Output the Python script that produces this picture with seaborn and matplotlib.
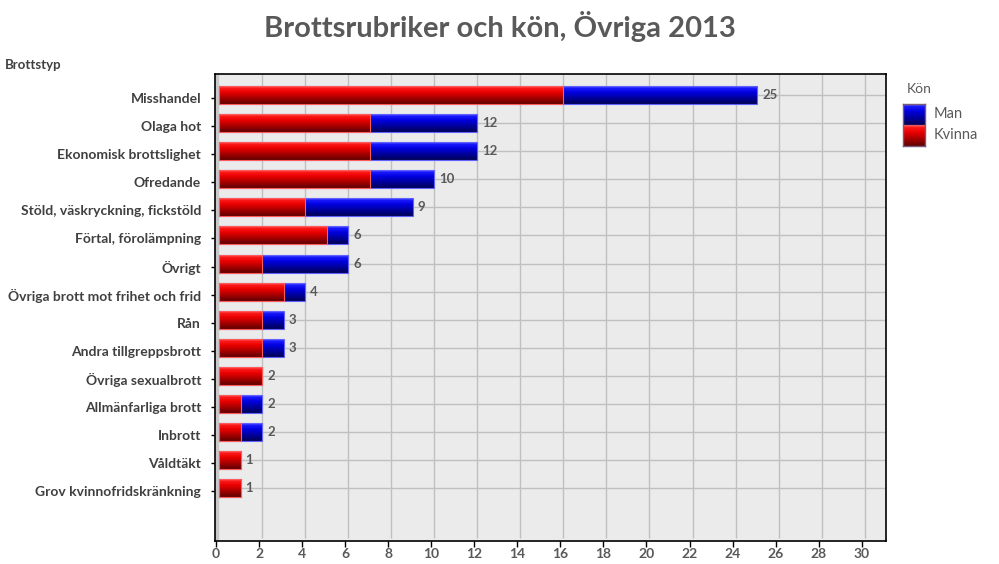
import numpy as np
import pandas as pd
import matplotlib
matplotlib.use("Agg")
import matplotlib.pyplot as plt
import matplotlib.transforms as mtransforms
import seaborn as sns

categories = ["Misshandel", "Olaga hot", "Ekonomisk brottslighet", "Ofredande",
              "Stöld, väskryckning, fickstöld", "Förtal, förolämpning", "Övrigt",
              "Övriga brott mot frihet och frid", "Rån", "Andra tillgreppsbrott",
              "Övriga sexualbrott", "Allmänfarliga brott", "Inbrott", "Våldtäkt",
              "Grov kvinnofridskränkning"]
kvinna = [16, 7, 7, 7, 4, 5, 2, 3, 2, 2, 2, 1, 1, 1, 1]
man = [9, 5, 5, 3, 5, 1, 4, 1, 1, 1, 0, 1, 1, 0, 0]
xticks = list(range(0, 31, 2))

title = "Brottsrubriker och kön, Övriga 2013"
ylabel_text = "Brottstyp"
legend_title = "Kön"

df = pd.DataFrame({"Brottstyp": categories, "Kvinna": kvinna, "Man": man})
df["Total"] = df["Kvinna"] + df["Man"]

sns.set_theme(style="white")
FONT = ["Lato", "DejaVu Sans"]
plt.rcParams["font.family"] = FONT
GRAY = "#595959"

fig = plt.figure(figsize=(9.99, 5.64), dpi=100)
ax = fig.add_axes([215 / 999, 1 - 541 / 564, (886 - 215) / 999, (541 - 74) / 564])
ax.set_facecolor("#ebebeb")

W = 0.64
sns.barplot(data=df, y="Brottstyp", x="Total", color="#0000dd", width=W, ax=ax,
            saturation=1, zorder=3, orient="h")
n_man = len(ax.patches)
sns.barplot(data=df, y="Brottstyp", x="Kvinna", color="#dd0000", width=W, ax=ax,
            saturation=1, zorder=4, orient="h")

xlim = (-0.05, 31.13)
ylim = (15.77, -0.854)

# 3D-like back wall offset
offset = mtransforms.Affine2D().translate(3, 3)
trans = ax.transData + offset


def grad(stops, n=64):
    pos = np.array([s[0] for s in stops])
    cols = np.array([s[1] for s in stops], dtype=float) / 255.0
    t = np.linspace(0, 1, n)
    arr = np.stack([np.interp(t, pos, cols[:, i]) for i in range(3)], axis=1)
    rgba = np.concatenate([arr, np.ones((n, 1))], axis=1)
    return rgba.reshape(n, 1, 4)


red_g = grad([(0, (255, 120, 120)), (0.1, (255, 25, 25)), (0.35, (232, 0, 0)),
              (1.0, (95, 0, 0))])
blue_g = grad([(0, (120, 120, 255)), (0.1, (25, 25, 255)), (0.35, (0, 0, 222)),
               (1.0, (0, 0, 85))])

for i, p in enumerate(ax.patches):
    is_man = i < n_man
    p.set_transform(trans)
    x0, y0 = p.get_x(), p.get_y()
    w, h = p.get_width(), p.get_height()
    if w <= 0:
        p.set_visible(False)
        continue
    p.set_facecolor("none")
    p.set_edgecolor("#6060ff" if is_man else "#ff5a5a")
    p.set_linewidth(0.8)
    g = blue_g if is_man else red_g
    im = ax.imshow(g, extent=(x0, x0 + w, y0 + h, y0), origin="upper",
                   aspect="auto", zorder=p.get_zorder() - 0.5, interpolation="bilinear")
    im.set_transform(trans)
    im.set_clip_path(p)

# grid (offset like the 3D back wall)
ax.vlines(xticks[1:], ylim[1], ylim[0], colors="#c0c0c0", linewidth=1, zorder=1,
          transform=trans)
ax.hlines(range(len(categories)), 0, xlim[1], colors="#c0c0c0", linewidth=1, zorder=1,
          transform=trans)
ax.axvspan(xlim[0], 0.1, color="#c8c8c8", zorder=1.5)

ax.set_xlim(*xlim)
ax.set_ylim(*ylim)
ax.set_xticks(xticks)
ax.set_xticklabels([str(t) for t in xticks], fontsize=10, fontweight="bold", color=GRAY)
ax.set_yticks(range(len(categories)))
ax.set_yticklabels(categories, fontsize=10, fontweight="bold", color="#404040")
ax.tick_params(axis="x", length=4, width=1, color="black", pad=1, bottom=True)
ax.tick_params(axis="y", length=3, width=1, color="black", pad=7, left=True)
ax.set_xlabel("")
ax.set_ylabel("")
for s in ax.spines.values():
    s.set_visible(True)
    s.set_color("black")
    s.set_linewidth(1.2)

for i, tot in enumerate(df["Total"]):
    ax.annotate(str(tot), xy=(tot, i), xytext=(3.6, 0), textcoords="offset points",
                va="center", ha="left", fontsize=9.5, fontweight="bold", color=GRAY,
                zorder=6, xycoords=trans)

fig.text(0.5, 1 - 26 / 564, title, ha="center", va="center", fontsize=21,
         fontweight="bold", color=GRAY)
fig.text(5 / 999, 1 - 65 / 564, ylabel_text, ha="left", va="center", fontsize=9.5,
         fontweight="bold", color="#404040")

# legend
lax = fig.add_axes([903 / 999, 1 - 146 / 564, 22 / 999, 42 / 564])
lax.imshow(np.concatenate([blue_g, red_g], axis=0), aspect="auto", extent=(0, 1, 0, 2),
           interpolation="bilinear")
lax.set_xticks([])
lax.set_yticks([])
for s in lax.spines.values():
    s.set_color("#7a5a7a")
    s.set_linewidth(1)
fig.text(907 / 999, 1 - 89 / 564, legend_title, ha="left", va="center", fontsize=10,
         color=GRAY)
fig.text(934 / 999, 1 - 114 / 564, "Man", ha="left", va="center", fontsize=10.5,
         color=GRAY)
fig.text(934 / 999, 1 - 135 / 564, "Kvinna", ha="left", va="center", fontsize=10.5,
         color=GRAY)

fig.savefig("out.png", dpi=100)
